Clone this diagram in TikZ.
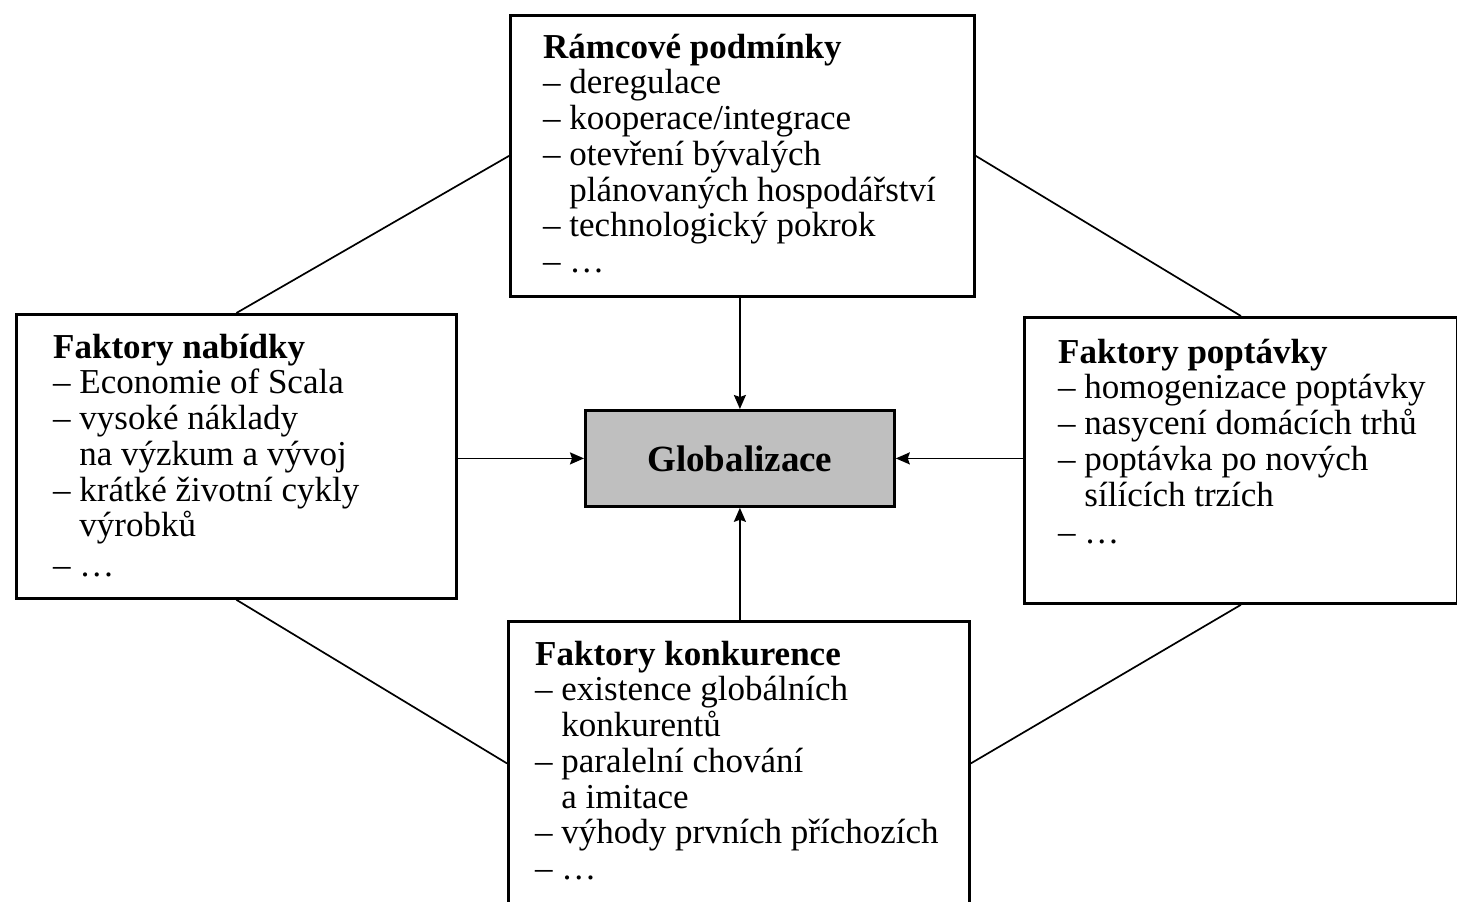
\documentclass[tikz,border=0pt]{standalone}
\usepackage{fontspec}
\setmainfont{Liberation Serif}
\usetikzlibrary{arrows.meta}
\begin{document}
\begin{tikzpicture}[x=1pt,y=-1pt,
  box/.style={draw=black, line width=2.8pt, rectangle, inner sep=0pt, anchor=north west},
  txt/.style={anchor=north west, inner sep=0pt, align=left, font=\fontsize{35}{35.7}\selectfont},
  conn/.style={line width=1.7pt},
  arr/.style={line width=1.7pt, -{Stealth[length=14pt,width=12pt,inset=2pt]}}]
\useasboundingbox (0,0) rectangle (1457,902);
% boxes
\node[box, minimum width=464pt, minimum height=281pt] (top) at (509,14) {};
\node[box, minimum width=440pt, minimum height=284pt] (left) at (15,313) {};
\node[box, minimum width=433pt, minimum height=286pt] (right) at (1023,316) {};
\node[box, minimum width=461pt, minimum height=284pt] (bottom) at (507,620) {};
\node[box, fill=black!25, minimum width=309pt, minimum height=96pt,
      font=\fontsize{37}{40}\selectfont\bfseries] (glob) at (584,409) {Globalizace};
% texts
\node[txt] (toptxt) at (543,28) {\rule{0pt}{30pt}\textbf{Rámcové podmínky}\\
  – deregulace\\
  – kooperace/integrace\\
  – otevření bývalých\\
  \hphantom{– }plánovaných hospodářství\\
  – technologický pokrok\\
  – …};
\node[txt] (lefttxt) at (53,328) {\rule{0pt}{30pt}\textbf{Faktory nabídky}\\
  – Economie of Scala\\
  – vysoké náklady\\
  \hphantom{– }na výzkum a vývoj\\
  – krátké životní cykly\\
  \hphantom{– }výrobků\\[4pt]
  – …};
\node[txt] (righttxt) at (1058,333) {\rule{0pt}{30pt}\textbf{Faktory poptávky}\\
  – homogenizace poptávky\\
  – nasycení domácích trhů\\
  – poptávka po nových\\
  \hphantom{– }sílících trzích\\[2pt]
  – …};
\node[txt] (bottomtxt) at (535,635) {\rule{0pt}{30pt}\textbf{Faktory konkurence}\\
  – existence globálních\\
  \hphantom{– }konkurentů\\
  – paralelní chování\\
  \hphantom{– }a imitace\\
  – výhody prvních příchozích\\
  – …};
% connectors
\draw[conn] (top.west) -- (left.north);
\draw[conn] (top.east) -- (right.north);
\draw[conn] (left.south) -- (bottom.west);
\draw[conn] (right.south) -- (bottom.east);
% arrows
\draw[arr] (top.south -| glob.north) -- (glob.north);
\draw[arr] (left.east |- glob.west) -- (glob.west);
\draw[arr] (right.west |- glob.east) -- (glob.east);
\draw[arr] (bottom.north -| glob.south) -- (glob.south);
\end{tikzpicture}
\end{document}
